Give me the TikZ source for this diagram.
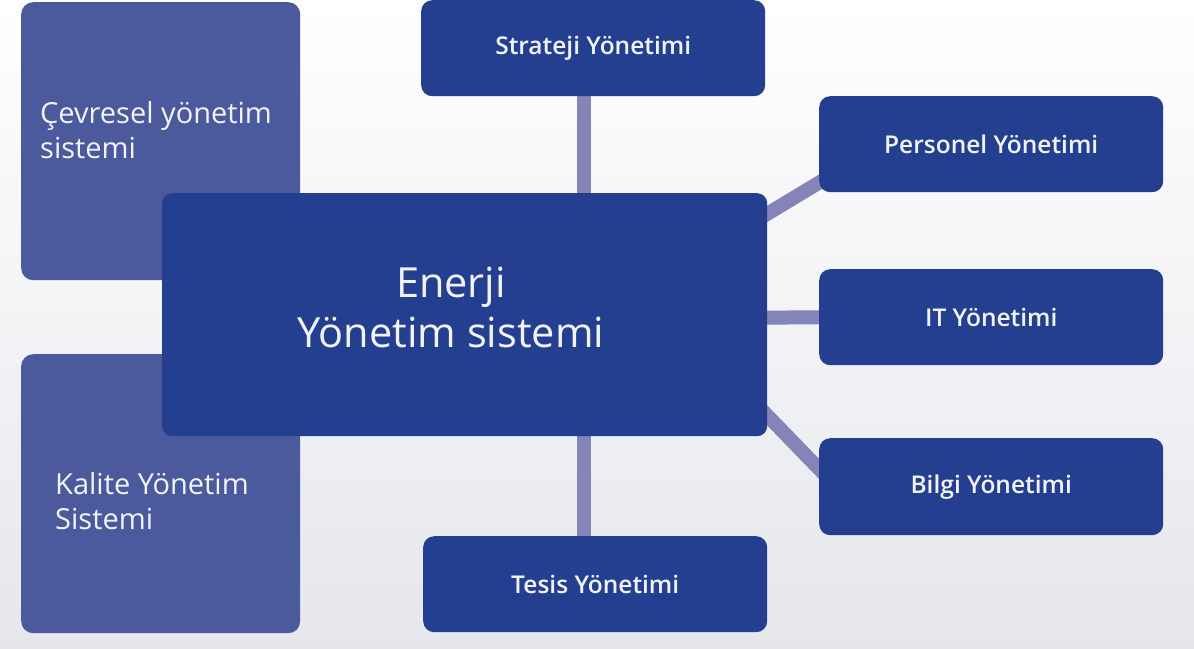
\documentclass[tikz,border=0pt]{standalone}
\usepackage{fontspec}
\setmainfont{Open Sans}[BoldFont={* Semibold}]
\usetikzlibrary{calc}
\pgfdeclarelayer{bg}
\pgfdeclarelayer{conn}
\pgfsetlayers{bg,conn,main}
\definecolor{sidebox}{HTML}{4A5A9C}
\definecolor{mainbox}{HTML}{243F8F}
\definecolor{linkcol}{HTML}{8584B9}
\definecolor{txt}{HTML}{F2F3F8}
\definecolor{bgtop}{HTML}{FFFFFF}
\definecolor{bgbot}{HTML}{E6E7EC}
\begin{document}
\begin{tikzpicture}[x=1pt,y=-1pt,
  sidestyle/.style={fill=sidebox, rounded corners=12pt, inner sep=0pt, anchor=north west},
  centerstyle/.style={fill=mainbox, rounded corners=10pt, inner sep=0pt, anchor=north west},
  smallbox/.style={fill=mainbox, rounded corners=11pt, inner sep=0pt, anchor=north west,
     minimum width=344pt, minimum height=96pt, text=txt, font=\fontsize{24.5}{29}\selectfont\bfseries},
  sidetext/.style={text=txt, anchor=north west, align=left, inner sep=0pt, font=\fontsize{29}{35}\selectfont},
  link/.style={draw=linkcol, line width=14pt}]
\begin{pgfonlayer}{bg}
\shade[top color=bgtop, bottom color=bgbot] (0,0) rectangle (1194,648);
\end{pgfonlayer}
\useasboundingbox (0,0) rectangle (1194,648);
% side boxes
\node[sidestyle, minimum width=279pt, minimum height=278pt] (env) at (21,2) {};
\node[sidestyle, minimum width=279pt, minimum height=279pt] (qual) at (21,354) {};
\node[sidetext] (envtxt) at (40,101) {Çevresel yönetim\\sistemi};
\node[sidetext] (qualtxt) at (55,472) {Kalite Yönetim\\Sistemi};
% centre
\node[centerstyle, minimum width=605pt, minimum height=243pt] (center) at (162,193) {};
\node[text=txt, align=center, inner sep=0pt, font=\fontsize{41.5}{50}\selectfont] (centertxt) at (451,307) {Enerji\\Yönetim sistemi};
% satellite boxes
\node[smallbox] (strat) at (421,0) {\raisebox{-3pt}{Strateji Yönetimi}};
\node[smallbox] (pers) at (819,96) {\raisebox{1pt}{Personel Yönetimi}};
\node[smallbox] (it) at (819,269) {IT Yönetimi};
\node[smallbox, minimum height=97pt] (bilgi) at (819,438) {\raisebox{-2pt}{Bilgi Yönetimi}};
\node[smallbox] (tesis) at (423,536) {Tesis Yönetimi};
% connectors
\coordinate (sa) at ($(strat.south)+(-9,-5)$);
\coordinate (ta) at ($(tesis.north)+(-11,5)$);
\begin{pgfonlayer}{conn}
\draw[link] (sa) -- (sa |- center.north);
\draw[link] (ta) -- (ta |- center.south);
\draw[link] ($(center.north east)+(-7,25)$) -- ($(pers.south west)+(7,-14)$);
\draw[link] ($(center.east)+(-5,3)$) -- ($(it.west)+(5,0)$);
\draw[link] ($(center.south east)+(-7,-28)$) -- ($(bilgi.north west)+(7,38)$);
\end{pgfonlayer}
\end{tikzpicture}
\end{document}
